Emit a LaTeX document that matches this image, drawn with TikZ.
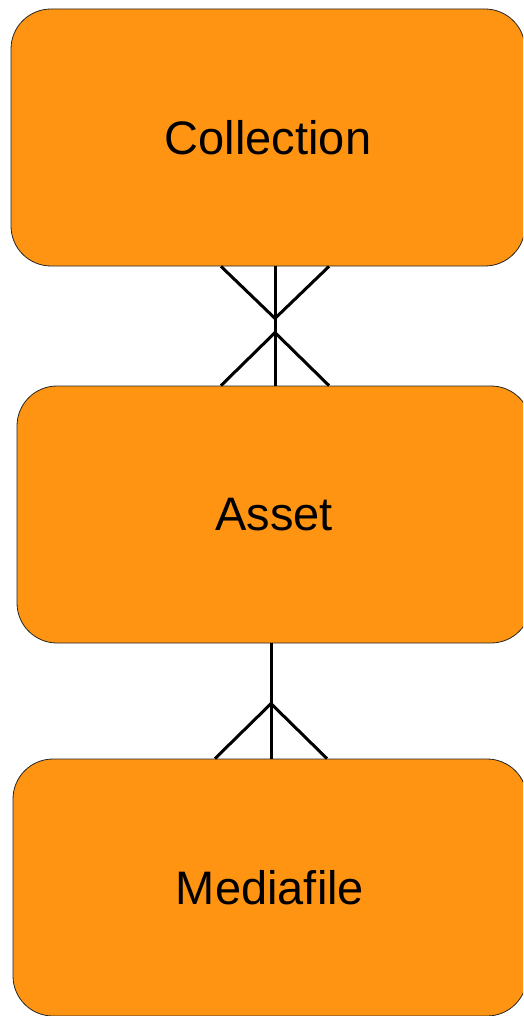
\documentclass[tikz,border=0pt]{standalone}
\usepackage{fontspec}
\setmainfont{Liberation Sans}
\usetikzlibrary{calc}
\definecolor{boxorange}{RGB}{254,148,18}
\begin{document}
\begin{tikzpicture}[x=1pt,y=-1pt,
  entity/.style={draw=black!85, line width=0.8pt, fill=boxorange, rounded corners=40pt,
    minimum width=514pt, minimum height=257pt, inner sep=0pt,
    font=\fontsize{47}{56}\selectfont},
  rel/.style={line width=3pt, black}]
\useasboundingbox (0,0) rectangle (523,1016);
\clip (0,0) rectangle (523,1016);
\node[entity] (c) at (268,137.5) {Collection};
\node[entity] (a) at (274,514.5) {Asset};
\node[entity] (m) at (270,887.5) {Mediafile};
% Collection -- Asset (many to many)
\coordinate (t1) at ([xshift=1pt]a.north |- c.south);
\coordinate (b1) at ([xshift=1pt]a.north);
\draw[rel] (t1) -- (b1);
\draw[rel] ($(t1)+(-54,0)$) -- ($(t1)+(0,52)$) -- ($(t1)+(54,0)$);
\draw[rel] ($(b1)+(-54,0)$) -- ($(b1)+(0,-53)$) -- ($(b1)+(54,0)$);
% Asset -- Mediafile (one to many)
\coordinate (t2) at ([xshift=1pt]m.north |- a.south);
\coordinate (b2) at ([xshift=1pt]m.north);
\draw[rel] (t2) -- (b2);
\draw[rel] ($(b2)+(-56,0)$) -- ($(b2)+(0,-55)$) -- ($(b2)+(56,0)$);
\end{tikzpicture}
\end{document}
